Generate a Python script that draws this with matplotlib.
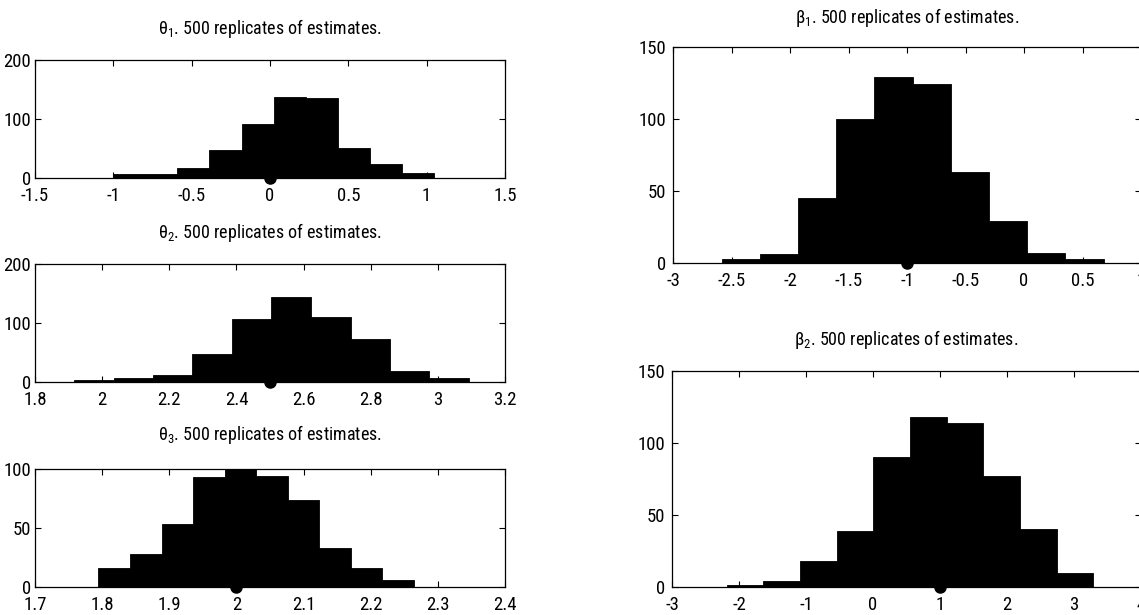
import matplotlib
matplotlib.use("Agg")
import matplotlib.pyplot as plt
from matplotlib import font_manager
from matplotlib.ticker import FormatStrFormatter
import numpy as np

# ---------------- data ----------------
titles = [r"θ$_1$. 500 replicates of estimates.",
          r"θ$_2$. 500 replicates of estimates.",
          r"θ$_3$. 500 replicates of estimates.",
          r"β$_1$. 500 replicates of estimates.",
          r"β$_2$. 500 replicates of estimates."]

theta1_centers = [-0.900, -0.695, -0.489, -0.284, -0.079, 0.126, 0.331, 0.536, 0.741, 0.946]
theta1_counts = [6, 6, 17, 48, 92, 138, 136, 51, 23, 9]

theta2_centers = [1.975, 2.093, 2.210, 2.328, 2.445, 2.563, 2.681, 2.798, 2.916, 3.033]
theta2_counts = [3, 6, 12, 48, 106, 144, 111, 73, 18, 6]

theta3_centers = [1.818, 1.865, 1.912, 1.959, 2.006, 2.053, 2.100, 2.147, 2.194, 2.241]
theta3_counts = [16, 28, 53, 93, 100, 94, 74, 33, 16, 6]

beta1_centers = [-2.421, -2.094, -1.768, -1.442, -1.115, -0.789, -0.463, -0.136, 0.190, 0.517]
beta1_counts = [3, 6, 45, 100, 129, 124, 63, 29, 7, 3]

beta2_centers = [-1.908, -1.361, -0.814, -0.267, 0.280, 0.827, 1.374, 1.921, 2.468, 3.015]
beta2_counts = [1.5, 4, 18, 39, 90, 118, 114, 77, 40, 10]

true_values = [0.0, 2.5, 2.0, -1.0, 1.0]

xlims = [(-1.5, 1.5), (1.8, 3.2), (1.7, 2.4), (-3, 1), (-3, 4)]
ylims = [(0, 200), (0, 200), (0, 100), (0, 150), (0, 150)]
xticks = [[-1.5, -1, -0.5, 0, 0.5, 1, 1.5],
          [1.8, 2, 2.2, 2.4, 2.6, 2.8, 3, 3.2],
          [1.7, 1.8, 1.9, 2, 2.1, 2.2, 2.3, 2.4],
          [-3, -2.5, -2, -1.5, -1, -0.5, 0, 0.5, 1],
          [-3, -2, -1, 0, 1, 2, 3, 4]]
yticks = [[0, 100, 200], [0, 100, 200], [0, 50, 100], [0, 50, 100, 150], [0, 50, 100, 150]]

centers = [theta1_centers, theta2_centers, theta3_centers, beta1_centers, beta2_centers]
counts = [theta1_counts, theta2_counts, theta3_counts, beta1_counts, beta2_counts]

# ---------------- fonts: prefer a narrow / condensed sans ----------------
fam, stretch = "Liberation Sans", "normal"
entries = font_manager.fontManager.ttflist
prefs = ["Liberation Sans Narrow", "Arial Narrow", "Roboto Condensed",
         "Open Sans Condensed", "Noto Sans Condensed", "DejaVu Sans"]
found = False
for p in prefs:
    for f in entries:
        cond = ("Narrow" in f.name or "Condensed" in f.name
                or str(f.stretch) in ("condensed", "semi-condensed", "extra-condensed", "600", "700", "500", "300", "200"))
        if f.name == p and cond and f.style == "normal":
            fam = f.name
            stretch = f.stretch if not ("Narrow" in f.name or "Condensed" in f.name) else "normal"
            found = True
            break
    if found:
        break

plt.rcParams['font.family'] = [fam, 'DejaVu Sans']
plt.rcParams['font.stretch'] = stretch
plt.rcParams['mathtext.fontset'] = 'custom'
plt.rcParams['mathtext.rm'] = fam
plt.rcParams['mathtext.it'] = fam
plt.rcParams['mathtext.default'] = 'regular'
plt.rcParams['axes.unicode_minus'] = False

W, H = 1139, 615
fig = plt.figure(figsize=(W / 100, H / 100), dpi=100)

# axes rectangles in pixels: (left, top, right, bottom)
rects = [(35, 60, 505, 178),
         (35, 264, 505, 382),
         (35, 469, 505, 587),
         (673, 47, 1141, 263),
         (672, 371, 1141, 587)]
title_pads = [19, 19, 21, 17.5, 19]
ypads = [3, 3, 3, 5, 5]

for i in range(5):
    l, t, r, b = rects[i]
    ax = fig.add_axes([l / W, 1 - b / H, (r - l) / W, (b - t) / H])
    c = np.array(centers[i])
    w = c[1] - c[0]
    ax.bar(c, counts[i], width=w, color='black', edgecolor='black', linewidth=0.6, zorder=2)
    ax.plot([true_values[i]], [0], 'o', color='black', ms=8, clip_on=False, zorder=5)
    ax.set_xlim(*xlims[i])
    ax.set_ylim(*ylims[i])
    ax.set_xticks(xticks[i])
    ax.set_yticks(yticks[i])
    ax.xaxis.set_major_formatter(FormatStrFormatter('%g'))
    ax.yaxis.set_major_formatter(FormatStrFormatter('%g'))
    ax.tick_params(direction='in', length=4.5, width=0.8, top=True, right=True,
                   labelsize=13.5, colors='black')
    ax.tick_params(axis='x', pad=6.5)
    ax.tick_params(axis='y', pad=ypads[i])
    for s in ax.spines.values():
        s.set_linewidth(0.9)
        s.set_zorder(6)
    ax.set_title(titles[i], fontsize=13, pad=title_pads[i])

fig.savefig("out.png", dpi=100, facecolor='white')
